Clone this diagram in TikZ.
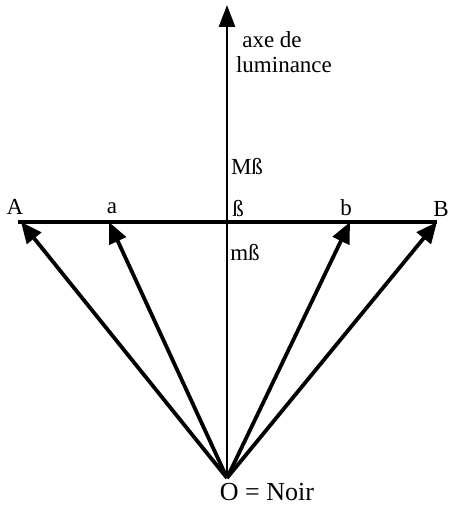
\documentclass[tikz,border=0pt]{standalone}
\usepackage{fontspec}
\setmainfont{Liberation Serif}
\usepackage{tikz}
\usetikzlibrary{arrows.meta, positioning, calc}

\begin{document}
\begin{tikzpicture}[
        x=1pt, y=1pt,
        vec/.style={-{Triangle[length=21pt, width=18pt]}, line width=3.8pt, black},
        axe/.style={-{Triangle[length=22pt, width=16pt]}, line width=2.8pt, black},
        hline/.style={line width=3.8pt, black},
        lbl/.style={font=\fontsize{23}{25}\selectfont, inner sep=0pt},
    ]
    \useasboundingbox (0,0) rectangle (449,509);
    \coordinate (O) at (227,31);
    \coordinate (top) at (227,504);
    \coordinate (A) at (21,287);
    \coordinate (a) at (109,287);
    \coordinate (b) at (350,287);
    \coordinate (B) at (437,287);
    \draw[hline] (18,287) -- (B);
    \draw[axe] (O) -- (top);
    \draw[vec] (O) -- (A);
    \draw[vec] (O) -- (a);
    \draw[vec] (O) -- (b);
    \draw[vec] (O) -- (B);
    \node[lbl] at (15,302) (lA) {A};
    \node[lbl] at (112,301) (la) {a};
    \node[lbl] at (238,300) (lbeta) {ß};
    \node[lbl] at (346,301) (lb) {b};
    \node[lbl] at (441,300) (lB) {B};
    \node[lbl] at (247,342) (lMb) {Mß};
    \node[lbl] at (245,256) (lmb) {mß};
    \node[lbl] at (272,469) (laxe) {axe de};
    \node[lbl] at (284,444) (llum) {luminance};
    \node[lbl, font=\fontsize{26}{28}\selectfont] at (267,17) (lO) {O = Noir};
\end{tikzpicture}
\end{document}
